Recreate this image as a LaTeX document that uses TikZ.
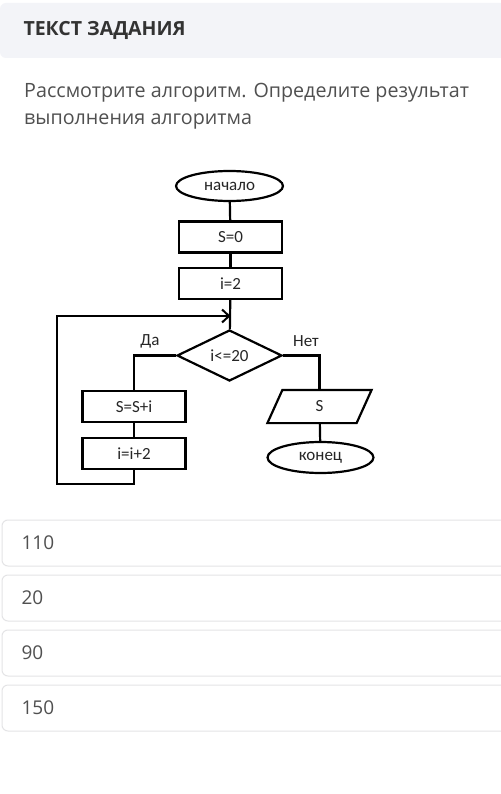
\documentclass[tikz,border=0pt]{standalone}
\usepackage{fontspec}
\setmainfont{Open Sans}
\newfontfamily\fcfont{Carlito}
\usetikzlibrary{arrows.meta,shapes.geometric}
\definecolor{hdrbg}{HTML}{F3F4F8}
\definecolor{hdrtxt}{HTML}{333333}
\definecolor{bodytxt}{HTML}{505050}
\definecolor{boxline}{HTML}{E4E4E6}
\tikzset{
  fc/.style={draw=black, line width=2.2pt, font=\fcfont\fontsize{17}{20}\selectfont, text=black!85},
  procbox/.style={fc, rectangle, minimum width=103pt, minimum height=31pt, inner sep=0pt},
  termbox/.style={fc, ellipse, minimum width=107pt, minimum height=30pt, inner sep=0pt},
  decbox/.style={fc, diamond, aspect=2.06, minimum width=105pt, minimum height=51pt, inner sep=0pt},
  iobox/.style={fc, draw=none, rectangle, minimum width=87pt, minimum height=31pt, inner sep=0pt},
  conn/.style={draw=black, line width=2.2pt},
  lbl/.style={font=\fcfont\fontsize{17}{20}\selectfont, text=black!85},
  answer/.style={draw=boxline, line width=1pt, rounded corners=6pt},
  anstext/.style={anchor=west, font=\fontsize{19}{22}\selectfont, text=bodytxt}
}
\begin{document}
\begin{tikzpicture}[x=1pt,y=-1pt]
\useasboundingbox (0,0) rectangle (500,794);
\fill[white] (0,0) rectangle (500,794);
% header
\fill[hdrbg, rounded corners=6pt] (0,3) rectangle (520,58);
\node[anchor=west, font=\bfseries\fontsize{19.5}{22}\selectfont, text=hdrtxt] (hdr) at (20,30) {ТЕКСТ ЗАДАНИЯ};
\node[anchor=north west, align=left, inner sep=0pt, font=\fontsize{19.7}{27}\selectfont, text=bodytxt] (task) at (24,83) {Рассмотрите алгоритм. Определите результат\\выполнения алгоритма};
% flowchart
\node[termbox] (start) at (229.5,186) {начало};
\node[procbox] (s0) at (230.5,237) {S=0};
\node[procbox] (i2) at (230.5,283.5) {i=2};
\coordinate (merge) at (230.5,316);
\node[decbox] (cond) at (229.5,355.5) {i<=20};
\node[procbox] (ssi) at (134,406.5) {S=S+i};
\node[procbox] (ii2) at (134,453.5) {i=i+2};
\node[iobox] (out) at (319.5,406.5) {S};
\draw[conn, line join=miter] ([xshift=7.5pt]out.north west) -- ([xshift=7.5pt]out.north east)
  -- ([xshift=-7.5pt]out.south east) -- ([xshift=-7.5pt]out.south west) -- cycle;
\node[termbox, minimum width=106pt, minimum height=31pt] (stop) at (320.5,457.5) {конец};
\node[lbl] (yes) at (150,341) {Да};
\node[lbl] (no) at (306,341) {Нет};
\draw[conn] (start) -- (s0);
\draw[conn] (s0) -- (i2);
\draw[conn] (i2) -- (cond);
\draw[conn] (cond.west) -| (ssi.north);
\draw[conn] (ssi) -- (ii2);
\draw[conn] (cond.east) -| (out.north);
\draw[conn] (out) -- (stop);
\draw[conn, -{Straight Barb[length=7pt,width=13pt,line width=2pt]}] (ii2.south) |- (57,484) |- (merge);
% answers
\draw[answer] (2,520) rectangle (520,566);
\draw[answer] (2,575) rectangle (520,621);
\draw[answer] (2,630) rectangle (520,676);
\draw[answer] (2,685) rectangle (520,731);
\node[anstext] (a1) at (18,543) {110};
\node[anstext] (a2) at (18,598) {20};
\node[anstext] (a3) at (18,653) {90};
\node[anstext] (a4) at (18,708) {150};
\end{tikzpicture}
\end{document}
